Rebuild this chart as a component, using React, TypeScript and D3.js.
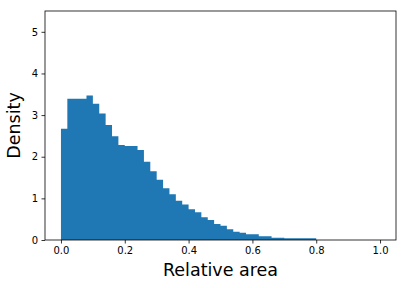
import { useEffect, useRef } from 'react';
import * as d3 from 'd3';

// histogram bins (width 0.02), density values
const binStarts = d3.range(0, 0.8, 0.02).map(v => +v.toFixed(2));
const density = [
  2.67, 3.39, 3.39, 3.39, 3.47, 3.27, 3.04, 2.76, 2.49, 2.28,
  2.26, 2.26, 2.16, 1.88, 1.65, 1.45, 1.24, 1.10, 0.945, 0.85,
  0.74, 0.665, 0.545, 0.48, 0.385, 0.34, 0.256, 0.20, 0.176, 0.136,
  0.136, 0.088, 0.088, 0.056, 0.056, 0.04, 0.04, 0.04, 0.04, 0.04,
];
const binWidth = 0.02;
const xTicks = [0, 0.2, 0.4, 0.6, 0.8, 1.0];
const yTicks = [0, 1, 2, 3, 4, 5];
const xLabel = 'Relative area';
const yLabel = 'Density';

function Histogram() {
  const svgRef = useRef<SVGSVGElement>(null);

  useEffect(() => {
    const W = 407;
    const H = 288;
    const svg = d3.select(svgRef.current)
      .attr('width', W)
      .attr('height', H);

    svg.selectAll('*').remove();

    const margin = { top: 11, right: 11, bottom: 48, left: 45 };
    const width = W - margin.left - margin.right;
    const height = H - margin.top - margin.bottom;

    const g = svg.append('g')
      .attr('transform', `translate(${margin.left},${margin.top})`);

    const x = d3.scaleLinear().domain([-0.05, 1.05]).range([0, width]);
    const y = d3.scaleLinear().domain([0, 5.5]).range([height, 0]);

    // bars drawn as one stepped outline so neighbouring bins don't show seams
    const pts = binStarts.map((x0, i) => ({ x: x0, v: density[i] }));
    const last = binStarts[binStarts.length - 1] + binWidth;
    pts.push({ x: last, v: density[density.length - 1] });

    const area = d3.area<{ x: number; v: number }>()
      .x(d => x(d.x))
      .y0(y(0))
      .y1(d => y(d.v))
      .curve(d3.curveStepAfter);

    g.append('path')
      .datum(pts)
      .attr('d', area)
      .attr('fill', '#1f77b4');

    const font = 'DejaVu Sans, sans-serif';

    const xAxis = g.append('g')
      .attr('transform', `translate(0,${height})`)
      .call(d3.axisBottom(x).tickValues(xTicks).tickFormat(d3.format('.1f')).tickSize(3.5).tickPadding(3.5));
    const yAxis = g.append('g')
      .call(d3.axisLeft(y).tickValues(yTicks).tickFormat(d3.format('d')).tickSize(3.5).tickPadding(3.5));

    [xAxis, yAxis].forEach(a => {
      a.select('.domain').remove();
      a.selectAll('line').attr('stroke', '#000').attr('stroke-width', 0.8);
      a.selectAll('text').attr('font-family', font).attr('font-size', 10).attr('fill', '#000');
    });

    // spines
    g.append('rect')
      .attr('x', 0)
      .attr('y', 0)
      .attr('width', width)
      .attr('height', height)
      .attr('fill', 'none')
      .attr('stroke', '#000')
      .attr('stroke-width', 0.8);

    svg.append('text')
      .attr('x', margin.left + width / 2)
      .attr('y', 276)
      .attr('text-anchor', 'middle')
      .attr('font-family', font)
      .attr('font-size', 17.5)
      .attr('fill', '#000')
      .text(xLabel);

    svg.append('text')
      .attr('transform', `translate(20,${margin.top + height / 2}) rotate(-90)`)
      .attr('text-anchor', 'middle')
      .attr('font-family', font)
      .attr('font-size', 17.5)
      .attr('fill', '#000')
      .text(yLabel);
  }, []);

  return (
    <svg ref={svgRef} style={{ position: 'absolute', left: 0, top: 0, background: '#fff' }}></svg>
  );
}

export default function App() {
  return <Histogram />;
}
